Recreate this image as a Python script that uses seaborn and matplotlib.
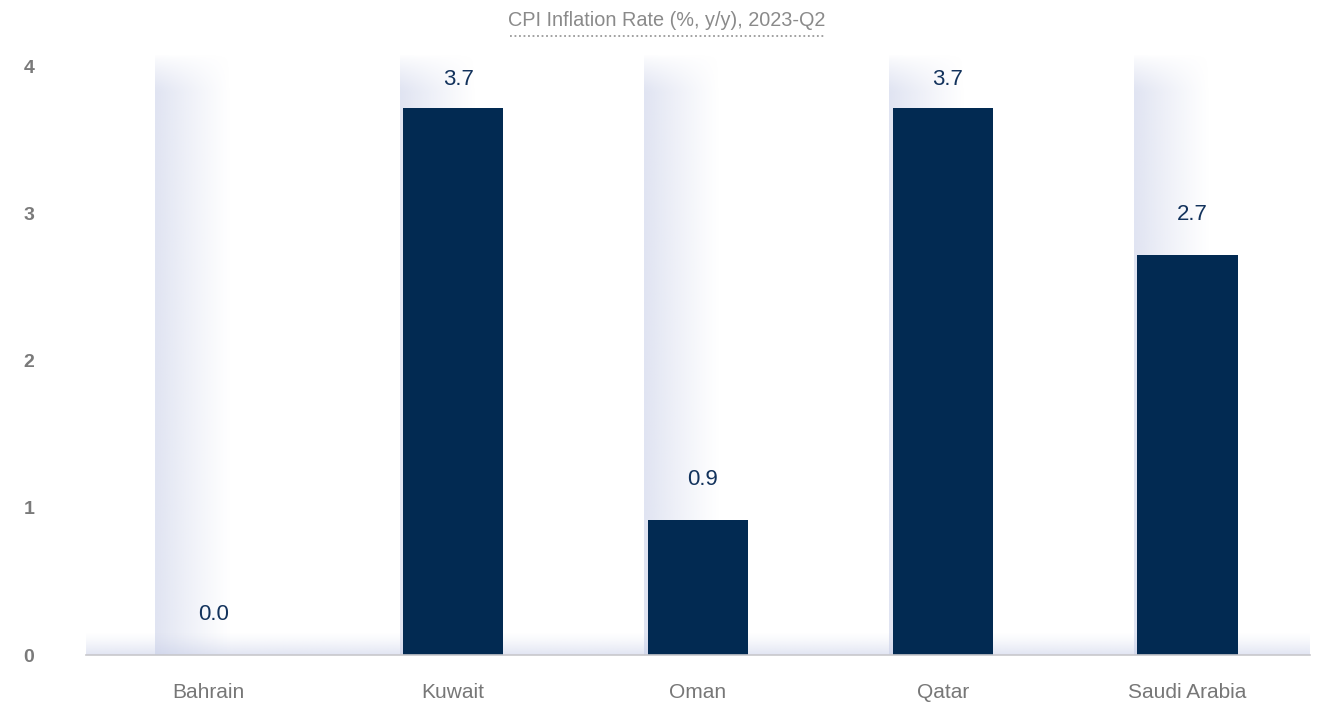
import numpy as np
import pandas as pd
import matplotlib
matplotlib.use("Agg")
import matplotlib.pyplot as plt
import seaborn as sns
from matplotlib.lines import Line2D

categories = ["Bahrain", "Kuwait", "Oman", "Qatar", "Saudi Arabia"]
values = [0.0, 3.72, 0.92, 3.72, 2.72]
labels = ["0.0", "3.7", "0.9", "3.7", "2.7"]
yticks = [0, 1, 2, 3, 4]
title = "CPI Inflation Rate (%, y/y), 2023-Q2"

sns.set_theme(style="white")
plt.rcParams['font.family'] = ['Liberation Sans', 'DejaVu Sans']

BAR = "#022a52"
W, H = 1326, 702
fig = plt.figure(figsize=(W / 100, H / 100), dpi=100)
ymax = 4.1
ax = fig.add_axes([86 / W, (H - 655) / H, (1310 - 86) / W, (655 - 52) / H])

df = pd.DataFrame({"country": categories, "value": values})
sns.barplot(data=df, x="country", y="value", color=BAR, width=0.41,
            saturation=1, linewidth=0, ax=ax, zorder=3)

bw = 0.41
# vertical gradient bands behind each category
nx, ny = 64, 128
tx = np.linspace(0, 1, nx)
ty = np.linspace(0, 1, ny)  # 0 bottom, 1 top
ax_alpha = (1 - tx) ** 1.1
ay_alpha = np.clip((1 - ty) / 0.06, 0, 1) ** 0.8
col = np.array([196, 203, 230]) / 255
for i in range(len(categories)):
    A = np.outer(ay_alpha, ax_alpha) * 0.52
    img = np.zeros((ny, nx, 4))
    img[..., :3] = col
    img[..., 3] = A
    x0 = i - bw / 2 - 0.014
    ax.imshow(img, extent=[x0, x0 + 0.31, 0, ymax], origin="lower",
              aspect="auto", zorder=1, interpolation="bilinear")

# bottom horizontal gradient band
img = np.zeros((32, 4, 4))
img[..., :3] = col
img[..., 3] = (np.linspace(1, 0, 32) ** 1.3)[:, None] * 0.5
ax.imshow(img, extent=[-0.5, 4.5, 0, 0.15], origin="lower", aspect="auto",
          zorder=1, interpolation="bilinear")

ax.set_xlim(-0.5, 4.5)
ax.set_ylim(0, ymax)

# value labels: a fixed distance above each bar, kept inside the plot
for i, (v, lab) in enumerate(zip(values, labels)):
    ax.text(i + 0.02, min(v + 0.272, 3.91), lab, ha="center", va="center",
            fontsize=16, color="#12325c", zorder=4)

ax.set_yticks(yticks)
ax.set_yticklabels([str(t) for t in yticks], fontsize=14, fontweight="bold",
                   color="#7a7a7a")
ax.tick_params(axis="y", length=0, pad=45)
for t in ax.get_yticklabels():
    t.set_horizontalalignment("left")
ax.tick_params(axis="x", length=0, pad=20, labelsize=15, labelcolor="#777777")
ax.set_xlabel("")
ax.set_ylabel("")
for s in ["top", "right", "left"]:
    ax.spines[s].set_visible(False)
ax.spines["bottom"].set_color("#c8c8cc")
ax.spines["bottom"].set_linewidth(1.2)
ax.spines["bottom"].set_zorder(5)

fig.text(667 / W, 1 - 20 / H, title, ha="center", va="center", fontsize=14.3,
         color="#8a8a8a")
fig.add_artist(Line2D([510 / W, 825 / W], [1 - 36 / H, 1 - 36 / H],
                      transform=fig.transFigure, color="#9a9a9a",
                      linestyle=(0, (1, 1.5)), linewidth=1.3))

fig.savefig("out.png", dpi=100)
